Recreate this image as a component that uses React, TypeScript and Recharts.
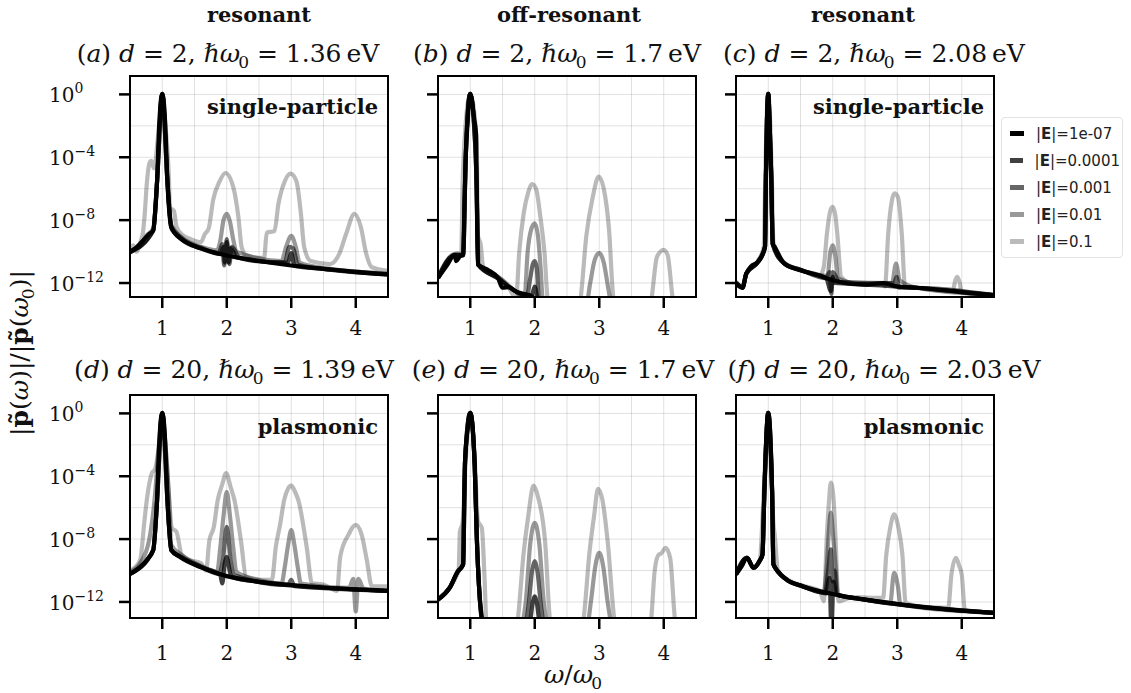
import React from 'react'
import { LineChart, Line, XAxis, YAxis, CartesianGrid, Legend } from 'recharts'

type Pt = [number, number]

const FIELD_LABELS = ['1e-07', '0.0001', '0.001', '0.01', '0.1']
const HEADERS = ['resonant', 'off-resonant', 'resonant']
const X_TICKS = [1, 2, 3, 4]
const Y_TICKS = [1e-12, 1e-8, 1e-4, 1]
const GRID_X = [1, 1.5, 2, 2.5, 3, 3.5, 4]
const GRID_Y = [1, 1e-2, 1e-4, 1e-6, 1e-8, 1e-10, 1e-12]

// (a) d = 2, 1.36 eV
const aE7: Pt[] = [[0.5, 9e-11], [0.6, 1.9e-10], [0.7, 5e-10], [0.8, 1.35e-9], [0.86, 2.2e-9], [0.89, 3e-8], [0.92, 3e-6], [0.95, 6e-3], [0.98, 0.5], [1.0, 1.1], [1.02, 0.5], [1.05, 6e-3], [1.08, 3e-6], [1.11, 3e-8], [1.14, 3.5e-9], [1.2, 1.4e-9], [1.3, 6e-10], [1.5, 2.2e-10], [1.75, 1e-10], [2.0, 5.6e-11], [2.5, 2.5e-11], [3.0, 1.3e-11], [3.5, 8e-12], [4.0, 5e-12], [4.5, 3.5e-12]]
const aE4: Pt[] = [[0.5, 9e-11], [0.86, 2.2e-9], [0.92, 3e-6], [1.0, 1.1], [1.08, 3e-6], [1.14, 3.5e-9], [1.3, 6e-10], [1.6, 1.6e-10], [1.9, 7e-11], [1.95, 2e-10], [1.97, 2e-11], [2.0, 4e-10], [2.03, 2e-11], [2.06, 1.6e-10], [2.15, 4.5e-11], [2.6, 2.2e-11], [2.95, 2e-11], [3.0, 8e-11], [3.05, 1.2e-11], [3.5, 8e-12], [4.5, 3.5e-12]]
const aE3: Pt[] = [[0.5, 1e-10], [0.86, 2.2e-9], [0.92, 3e-6], [1.0, 1.1], [1.08, 3e-6], [1.14, 4e-9], [1.3, 7e-10], [1.6, 1.8e-10], [1.88, 8e-11], [1.93, 3e-10], [1.96, 1.3e-11], [2.0, 6.3e-10], [2.04, 1.6e-11], [2.08, 2e-10], [2.2, 4e-11], [2.9, 2e-11], [2.97, 2e-10], [3.03, 1.6e-10], [3.1, 1.5e-11], [3.6, 7e-12], [4.5, 3.5e-12]]
const aE2: Pt[] = [[0.5, 1.2e-10], [0.65, 2e-10], [0.75, 1e-9], [0.86, 3e-9], [0.92, 3e-6], [1.0, 1.1], [1.08, 3e-6], [1.14, 5e-9], [1.3, 8e-10], [1.6, 2e-10], [1.85, 1.2e-10], [1.9, 5e-10], [1.95, 1e-8], [2.0, 2.5e-8], [2.05, 8e-9], [2.1, 6e-10], [2.15, 1e-10], [2.85, 2.5e-11], [2.92, 2e-10], [3.0, 1e-9], [3.07, 2e-10], [3.13, 2e-11], [3.6, 8e-12], [4.5, 4e-12]]
const aE1: Pt[] = [[0.5, 1.3e-10], [0.55, 2.5e-10], [0.6, 1e-10], [0.66, 4e-10], [0.7, 1.6e-9], [0.73, 3e-8], [0.76, 2e-6], [0.8, 4e-5], [0.83, 6e-5], [0.87, 2e-5], [0.95, 1e-2], [1.0, 1], [1.05, 1e-2], [1.1, 1e-5], [1.12, 6e-8], [1.18, 4e-8], [1.22, 4e-9], [1.3, 1.3e-9], [1.45, 6e-10], [1.6, 4e-10], [1.66, 1.3e-9], [1.72, 3e-9], [1.79, 2e-7], [1.89, 3e-6], [1.98, 1e-5], [2.1, 1.3e-6], [2.18, 1.6e-8], [2.23, 2e-10], [2.3, 6e-11], [2.5, 4e-11], [2.58, 4e-11], [2.62, 1.6e-9], [2.74, 2e-9], [2.8, 1e-7], [2.9, 3e-6], [2.99, 9e-6], [3.08, 3e-6], [3.15, 2.5e-8], [3.2, 2e-10], [3.3, 2.5e-11], [3.6, 1.6e-11], [3.75, 8e-11], [3.85, 1.3e-9], [3.98, 2.5e-8], [4.08, 3.5e-9], [4.16, 8e-11], [4.25, 1e-11], [4.5, 6e-12]]

// (b) d = 2, 1.7 eV
const bE7: Pt[] = [[0.5, 2.1e-12], [0.64, 1.35e-11], [0.76, 6.3e-11], [0.78, 2.5e-11], [0.84, 5e-11], [0.89, 6e-11], [0.91, 1e-7], [0.93, 1e-4], [0.96, 2e-2], [0.99, 0.9], [1.0, 1.1], [1.02, 0.6], [1.06, 3e-2], [1.09, 3e-3], [1.1, 1e-6], [1.12, 1.5e-11], [1.27, 7e-12], [1.43, 2.1e-12], [1.5, 5e-13], [1.6, 5.5e-13], [1.7, 3e-13], [1.84, 2e-13], [1.96, 1.4e-13], [2.1, 1e-14], [2.2, 1e-15]]
const bE4: Pt[] = [[0.5, 2.1e-12], [0.76, 6e-11], [0.89, 6e-11], [0.93, 1e-4], [1.0, 1.1], [1.06, 1e-2], [1.1, 1e-6], [1.12, 1.5e-11], [1.43, 2e-12], [1.7, 3e-13], [1.9, 1.5e-13], [1.96, 2e-13], [2.0, 6e-13], [2.04, 1e-13], [2.1, 1e-14]]
const bE3: Pt[] = [[0.5, 2.1e-12], [0.76, 6e-11], [0.89, 6e-11], [0.93, 1e-4], [1.0, 1.1], [1.06, 1e-2], [1.1, 1e-6], [1.12, 1.5e-11], [1.43, 2e-12], [1.7, 3e-13], [1.88, 1.5e-13], [1.93, 2e-12], [1.97, 1.6e-11], [2.0, 2.5e-11], [2.03, 1e-11], [2.06, 1e-13], [2.1, 1e-14]]
const bE2: Pt[] = [[0.5, 2.5e-12], [0.76, 7e-11], [0.89, 7e-11], [0.93, 1e-4], [1.0, 1.1], [1.06, 1e-2], [1.1, 1e-6], [1.13, 1.5e-11], [1.43, 2.5e-12], [1.7, 3e-13], [1.84, 1e-13], [1.89, 1e-10], [1.95, 3e-9], [2.0, 6.3e-9], [2.05, 1e-9], [2.09, 1e-11], [2.13, 5e-14], [2.8, 5e-14], [2.86, 1e-12], [2.93, 3e-11], [3.0, 8e-11], [3.07, 2e-11], [3.13, 8e-13], [3.18, 5e-14]]
const bE1: Pt[] = [[0.5, 2.5e-12], [0.7, 4e-11], [0.8, 8e-11], [0.86, 6e-11], [0.88, 1e-6], [0.91, 1e-3], [1.0, 1.1], [1.1, 1e-3], [1.12, 1e-9], [1.16, 3e-10], [1.2, 1e-11], [1.25, 5e-12], [1.43, 2.5e-12], [1.6, 5e-13], [1.71, 1e-13], [1.76, 1e-10], [1.83, 3e-8], [1.9, 6e-7], [1.96, 2e-6], [2.02, 1e-6], [2.09, 1.3e-8], [2.15, 1e-10], [2.2, 1e-13], [2.3, 1e-14], [2.65, 1e-14], [2.71, 1e-13], [2.8, 1e-9], [2.9, 3e-7], [2.99, 6e-6], [3.07, 1e-6], [3.15, 3e-9], [3.22, 1e-13], [3.3, 1e-14], [3.75, 1e-14], [3.81, 1e-13], [3.89, 4e-11], [3.95, 1e-10], [4.0, 1.3e-10], [4.06, 6e-11], [4.14, 1e-13], [4.2, 1e-14]]

// (c) d = 2, 2.08 eV
const cE7: Pt[] = [[0.5, 1e-12], [0.6, 5e-13], [0.66, 4e-12], [0.73, 1.1e-11], [0.84, 2.2e-11], [0.91, 6e-11], [0.95, 2e-10], [0.965, 1e-5], [0.98, 2e-2], [1.0, 1.1], [1.02, 2e-2], [1.045, 1e-5], [1.07, 3e-10], [1.1, 2e-10], [1.15, 8e-11], [1.25, 1.7e-11], [1.5, 6.5e-12], [1.76, 3.2e-12], [2.0, 1.5e-12], [2.27, 9e-13], [2.53, 8e-13], [2.78, 1e-12], [2.99, 6e-13], [3.3, 5e-13], [3.81, 3.2e-13], [4.22, 2.1e-13], [4.5, 1.7e-13]]
const cE4: Pt[] = [[0.5, 1e-12], [0.6, 5e-13], [0.66, 4e-12], [0.84, 2.2e-11], [0.95, 2e-10], [0.965, 1e-5], [0.98, 2e-2], [1.0, 1.1], [1.02, 2e-2], [1.045, 1e-5], [1.07, 3e-10], [1.25, 1.7e-11], [1.5, 6.5e-12], [1.9, 2e-12], [1.97, 3e-13], [2.0, 2.5e-12], [2.03, 1e-12], [2.5, 8e-13], [3.3, 5e-13], [4.5, 1.7e-13]]
const cE3: Pt[] = [[0.5, 1e-12], [0.6, 5e-13], [0.66, 4e-12], [0.84, 2.2e-11], [0.95, 2e-10], [0.965, 1e-5], [0.98, 2e-2], [1.0, 1.1], [1.02, 2e-2], [1.045, 1e-5], [1.07, 3e-10], [1.25, 1.8e-11], [1.5, 7e-12], [1.9, 2e-12], [1.95, 5e-12], [1.98, 2e-13], [2.0, 5e-12], [2.04, 3e-12], [2.1, 1.2e-12], [2.95, 1e-12], [2.99, 2.5e-12], [3.03, 5e-13], [3.3, 5e-13], [4.5, 1.7e-13]]
const cE2: Pt[] = [[0.5, 1e-12], [0.6, 5e-13], [0.66, 4e-12], [0.84, 2.2e-11], [0.95, 2e-10], [0.965, 1e-5], [0.98, 2e-2], [1.0, 1.1], [1.02, 2e-2], [1.045, 1e-5], [1.07, 3e-10], [1.25, 1.8e-11], [1.5, 7e-12], [1.8, 3e-12], [1.92, 3e-12], [1.96, 8e-11], [2.0, 2.5e-10], [2.04, 5e-11], [2.08, 2e-12], [2.5, 8e-13], [2.92, 1e-12], [2.98, 1.7e-11], [3.04, 1.5e-12], [3.3, 5e-13], [4.5, 1.7e-13]]
const cE1: Pt[] = [[0.5, 1.2e-12], [0.6, 6e-13], [0.66, 4e-12], [0.84, 2.5e-11], [0.93, 2e-10], [0.955, 1e-5], [0.975, 3e-2], [1.0, 1], [1.03, 2e-2], [1.055, 1e-5], [1.08, 4e-10], [1.25, 2e-11], [1.5, 7e-12], [1.8, 3e-12], [1.86, 1e-11], [1.91, 1.4e-9], [1.97, 5e-8], [2.0, 7e-8], [2.04, 2e-8], [2.07, 1.4e-9], [2.13, 2.5e-12], [2.3, 1e-12], [2.78, 1e-12], [2.81, 6e-13], [2.86, 1.4e-9], [2.92, 2e-7], [2.96, 5e-7], [3.01, 3e-7], [3.07, 1.4e-9], [3.12, 6e-13], [3.3, 5e-13], [3.86, 3e-13], [3.9, 1.5e-12], [3.93, 2.5e-12], [3.97, 1e-12], [4.0, 2.5e-13], [4.5, 1.7e-13]]

// (d) d = 20, 1.39 eV
const dE7: Pt[] = [[0.5, 6e-11], [0.66, 1.7e-10], [0.78, 5.8e-10], [0.86, 2e-9], [0.89, 3e-8], [0.92, 3e-6], [0.95, 6e-3], [0.98, 0.5], [1.0, 1.1], [1.02, 0.5], [1.05, 6e-3], [1.08, 3e-6], [1.11, 3e-8], [1.14, 2e-9], [1.27, 7.4e-10], [1.58, 1.7e-10], [2.0, 4.4e-11], [2.5, 1.9e-11], [3.0, 1.2e-11], [3.5, 8.3e-12], [4.0, 6.3e-12], [4.5, 5e-12]]
const dE4: Pt[] = [[0.5, 6e-11], [0.86, 2e-9], [0.92, 3e-6], [1.0, 1.1], [1.08, 3e-6], [1.14, 2e-9], [1.3, 7e-10], [1.6, 1.7e-10], [1.9, 5e-11], [1.93, 1.5e-11], [1.97, 3e-10], [2.0, 7.4e-10], [2.03, 2e-10], [2.07, 4e-11], [2.5, 1.9e-11], [4.5, 5e-12]]
const dE3: Pt[] = [[0.5, 6e-11], [0.86, 2e-9], [0.92, 3e-6], [1.0, 1.1], [1.08, 3e-6], [1.14, 2e-9], [1.3, 7e-10], [1.6, 1.7e-10], [1.88, 6e-11], [1.94, 4.5e-10], [2.0, 6e-8], [2.06, 4.5e-10], [2.12, 5e-11], [2.95, 1.2e-11], [3.0, 2.5e-11], [3.05, 1e-11], [3.5, 8e-12], [4.5, 5e-12]]
const dE2: Pt[] = [[0.5, 8e-11], [0.66, 3e-10], [0.8, 1e-8], [0.88, 3e-6], [0.95, 1e-2], [1.0, 1], [1.05, 1e-2], [1.1, 1e-5], [1.14, 4e-9], [1.3, 1e-9], [1.6, 2e-10], [1.85, 8e-11], [1.9, 3e-9], [1.95, 3e-7], [2.0, 1e-5], [2.05, 3e-7], [2.1, 3e-9], [2.15, 8e-11], [2.5, 2.5e-11], [2.85, 1.5e-11], [2.9, 1.7e-10], [2.95, 4e-9], [3.0, 3.7e-8], [3.05, 4e-9], [3.1, 1.7e-10], [3.15, 1.5e-11], [3.9, 8e-12], [3.96, 3e-11], [4.0, 2.5e-13], [4.04, 3e-11], [4.12, 7e-12], [4.5, 5e-12]]
const dE1: Pt[] = [[0.5, 1e-10], [0.58, 1.6e-10], [0.66, 5e-10], [0.72, 1e-7], [0.76, 3e-6], [0.84, 1.6e-4], [0.89, 3e-4], [0.95, 1e-2], [1.0, 1], [1.05, 1e-2], [1.1, 1e-5], [1.15, 5e-8], [1.22, 3e-8], [1.3, 1e-9], [1.4, 5e-10], [1.6, 3e-10], [1.68, 1e-10], [1.73, 8e-9], [1.8, 6e-8], [1.86, 3e-6], [1.93, 3e-5], [1.99, 1.6e-4], [2.06, 2e-5], [2.12, 3e-6], [2.22, 8e-9], [2.3, 4e-11], [2.5, 2.5e-11], [2.7, 2.5e-11], [2.76, 3e-9], [2.83, 1e-7], [2.89, 3e-6], [2.95, 1.6e-5], [3.0, 2.5e-5], [3.06, 1e-5], [3.11, 3e-6], [3.24, 3e-9], [3.32, 1.6e-11], [3.5, 1.3e-11], [3.71, 5e-12], [3.76, 8e-10], [3.89, 2e-8], [4.0, 8e-8], [4.09, 2e-8], [4.17, 5e-10], [4.25, 1e-11], [4.5, 1e-11]]

// (e) d = 20, 1.7 eV
const eE7: Pt[] = [[0.5, 1.4e-12], [0.68, 7.8e-12], [0.81, 9e-11], [0.86, 1.5e-10], [0.89, 2.5e-10], [0.9, 1e-7], [0.92, 1e-3], [0.96, 0.1], [1.0, 1.1], [1.04, 0.1], [1.07, 4e-4], [1.1, 2e-8], [1.14, 5e-12], [1.19, 5e-14], [1.25, 1e-15]]
const eE4: Pt[] = [[0.5, 1.4e-12], [0.68, 7.8e-12], [0.81, 9e-11], [0.89, 2.5e-10], [0.92, 1e-3], [1.0, 1.1], [1.07, 4e-4], [1.1, 2e-8], [1.14, 5e-12], [1.19, 5e-14], [1.9, 5e-15], [1.93, 5e-14], [1.97, 1e-12], [2.0, 2.3e-12], [2.03, 1e-12], [2.07, 5e-14], [2.1, 5e-15]]
const eE3: Pt[] = [[0.5, 1.4e-12], [0.68, 7.8e-12], [0.81, 9e-11], [0.89, 2.5e-10], [0.92, 1e-3], [1.0, 1.1], [1.07, 4e-4], [1.1, 2e-8], [1.14, 5e-12], [1.19, 5e-14], [1.84, 5e-15], [1.87, 5e-14], [1.91, 1e-12], [1.96, 1e-10], [2.0, 4e-10], [2.04, 1e-10], [2.09, 1e-12], [2.13, 5e-14], [2.16, 5e-15]]
const eE2: Pt[] = [[0.5, 1.4e-12], [0.68, 8e-12], [0.81, 9e-11], [0.89, 2.5e-10], [0.92, 1e-3], [1.0, 1.1], [1.07, 4e-4], [1.1, 2e-8], [1.14, 5e-12], [1.19, 5e-14], [1.8, 5e-14], [1.86, 1e-12], [1.93, 5e-9], [2.0, 1.1e-7], [2.07, 5e-9], [2.14, 1e-12], [2.2, 5e-14], [2.82, 5e-14], [2.87, 1e-12], [2.94, 2e-10], [3.0, 1.35e-9], [3.06, 2e-10], [3.13, 1e-12], [3.18, 5e-14]]
const eE1: Pt[] = [[0.5, 1.6e-12], [0.68, 8e-12], [0.8, 6e-11], [0.82, 1e-10], [0.84, 3e-8], [0.88, 1e-7], [0.93, 1e-3], [1.0, 1], [1.07, 1e-3], [1.12, 1.4e-7], [1.18, 5e-8], [1.22, 5e-11], [1.26, 1e-14], [1.68, 1e-14], [1.73, 5e-14], [1.83, 1.6e-9], [1.9, 3e-7], [1.98, 2.5e-5], [2.05, 5e-6], [2.16, 7.4e-9], [2.24, 5e-14], [2.3, 1e-14], [2.7, 1e-14], [2.75, 5e-14], [2.85, 1.6e-9], [2.92, 3e-7], [2.98, 1.6e-5], [3.05, 3e-6], [3.13, 7.4e-9], [3.24, 5e-14], [3.3, 1e-14], [3.75, 1e-14], [3.8, 5e-14], [3.86, 1e-10], [3.92, 1e-9], [3.96, 1.2e-9], [4.03, 2.8e-9], [4.1, 6e-10], [4.18, 5e-14], [4.25, 1e-14]]

// (f) d = 20, 2.03 eV
const fE7: Pt[] = [[0.5, 5.6e-11], [0.59, 1.9e-10], [0.67, 6.5e-10], [0.77, 1.5e-10], [0.87, 4.4e-10], [0.91, 1e-9], [0.94, 1e-5], [0.97, 3e-2], [1.0, 1.1], [1.03, 3e-2], [1.06, 1e-5], [1.08, 2.5e-10], [1.15, 9e-11], [1.28, 2.7e-11], [1.53, 1e-11], [2.0, 3.2e-12], [2.5, 1.4e-12], [3.0, 7.4e-13], [3.51, 4.2e-13], [4.0, 2.8e-13], [4.5, 2e-13]]
const fE4: Pt[] = [[0.5, 5.6e-11], [0.67, 6.5e-10], [0.77, 1.5e-10], [0.87, 4.4e-10], [0.91, 1e-9], [0.94, 1e-5], [1.0, 1.1], [1.06, 1e-5], [1.08, 2.5e-10], [1.28, 2.7e-11], [1.53, 1e-11], [1.9, 3.5e-12], [1.95, 3.4e-11], [1.98, 1e-14], [2.01, 2e-11], [2.05, 3e-12], [2.5, 1.4e-12], [4.5, 2e-13]]
const fE3: Pt[] = [[0.5, 5.6e-11], [0.67, 6.5e-10], [0.77, 1.5e-10], [0.87, 4.4e-10], [0.91, 1e-9], [0.94, 1e-5], [1.0, 1.1], [1.06, 1e-5], [1.08, 2.5e-10], [1.28, 2.7e-11], [1.53, 1e-11], [1.88, 4e-12], [1.93, 1e-10], [1.97, 2.2e-9], [2.0, 2e-11], [2.03, 1e-10], [2.06, 3e-12], [2.5, 1.4e-12], [4.5, 2e-13]]
const fE2: Pt[] = [[0.5, 5.6e-11], [0.67, 6.5e-10], [0.77, 1.5e-10], [0.87, 4.4e-10], [0.91, 1e-9], [0.94, 1e-5], [1.0, 1.1], [1.06, 1e-5], [1.08, 2.5e-10], [1.28, 2.7e-11], [1.53, 1e-11], [1.86, 4e-12], [1.91, 3e-10], [1.94, 3e-8], [1.97, 4.8e-7], [2.0, 3e-8], [2.04, 3e-10], [2.08, 3e-12], [2.5, 1.4e-12], [2.89, 8e-13], [2.95, 7e-11], [3.01, 1e-11], [3.05, 7e-13], [4.5, 2e-13]]
const fE1: Pt[] = [[0.5, 6e-11], [0.67, 7e-10], [0.77, 1.7e-10], [0.87, 5e-10], [0.93, 1e-5], [1.0, 1], [1.05, 1e-4], [1.08, 1e-7], [1.1, 2e-8], [1.15, 1e-10], [1.28, 3e-11], [1.53, 1.1e-11], [1.8, 5e-12], [1.86, 1.1e-12], [1.91, 2e-8], [1.94, 2e-6], [1.97, 4e-5], [2.01, 5e-6], [2.04, 2e-8], [2.09, 1.1e-12], [2.3, 2e-12], [2.78, 1.8e-12], [2.83, 1e-9], [2.89, 5e-8], [2.95, 3.7e-7], [3.02, 5e-8], [3.08, 1e-9], [3.13, 8.7e-13], [3.5, 4.5e-13], [3.79, 4.2e-13], [3.84, 5.6e-11], [3.91, 6.5e-10], [3.96, 2e-10], [4.0, 5.6e-11], [4.05, 3e-13], [4.5, 2e-13]]

const PANELS = [
  { id: 'a', d: '2', hw: '1.36', note: 'single-particle', series: [aE7, aE4, aE3, aE2, aE1] },
  { id: 'b', d: '2', hw: '1.7', note: '', series: [bE7, bE4, bE3, bE2, bE1] },
  { id: 'c', d: '2', hw: '2.08', note: 'single-particle', series: [cE7, cE4, cE3, cE2, cE1] },
  { id: 'd', d: '20', hw: '1.39', note: 'plasmonic', series: [dE7, dE4, dE3, dE2, dE1] },
  { id: 'e', d: '20', hw: '1.7', note: '', series: [eE7, eE4, eE3, eE2, eE1] },
  { id: 'f', d: '20', hw: '2.03', note: 'plasmonic', series: [fE7, fE4, fE3, fE2, fE1] },
]

// styling / layout
const OPACITY = [1, 0.75, 0.6, 0.4, 0.27]
const SWATCH = ['#000', '#404040', '#666', '#999', '#bbb']
const SERIF = '"DejaVu Serif", serif'
const COL_X = [130, 438, 736]
const BOX_W = 258
const ROW_Y = [76, 395]
const BOX_H = [221, 223]
const Y_LO = [1.29e-13, 9.5e-14]
const Y_HI = 14.8
const ML = 90
const MT = 10
const MR = 12
const MB = 52
const TITLE_X = [[228, 557, 874], [234, 563, 884]]
const HEADER_X = [259, 569, 863]
const SUB = { fontSize: 17, lineHeight: 0, marginLeft: -2 }

const NoTick = () => null

const XTick = ({ x, y, payload, dy }: any) => (
  <text x={x} y={y + dy} textAnchor="middle" fontFamily={SERIF} fontSize={20} fill="#111">
    {payload.value}
  </text>
)

const YTick = ({ x, y, payload }: any) => {
  const exp = Math.round(Math.log10(payload.value))
  return (
    <text x={x - 68} y={y + 8} textAnchor="start" fontFamily={SERIF} fontSize={20} fill="#111">
      10<tspan dy={-9} fontSize={14}>{exp < 0 ? '\u2212' + -exp : exp}</tspan>
    </text>
  )
}

const LegendBox = ({ payload }: any) => {
  const items = [...(payload || [])].sort((a: any, b: any) => FIELD_LABELS.indexOf(a.value) - FIELD_LABELS.indexOf(b.value))
  return (
    <div style={{ border: '1px solid #e2e2e2', borderRadius: 4, background: '#fff', padding: '2px 2px 2px 8px', width: 110 }}>
      {items.map((e: any, i: number) => (
        <div key={e.value} style={{ display: 'flex', alignItems: 'center', height: 27, fontFamily: '"DejaVu Sans", sans-serif', fontSize: 15, color: '#222', whiteSpace: 'nowrap' }}>
          <span style={{ display: 'inline-block', width: 14, height: 5, background: SWATCH[i], marginRight: 12 }} />
          <span>|<b>E</b>|={e.value}</span>
        </div>
      ))}
    </div>
  )
}

function Panel({ p, row, col }: { p: (typeof PANELS)[number]; row: number; col: number }) {
  const extra = row === 0 && col === 2 ? 137 : 0
  const left = COL_X[col] - ML
  const top = ROW_Y[row] - MT
  const w = ML + BOX_W + MR + extra
  const h = MT + BOX_H[row] + MB
  return (
    <div style={{ position: 'absolute', left, top, width: w, height: h }}>
      <LineChart width={w} height={h} margin={{ top: MT, right: MR + extra, bottom: 0, left: 0 }}>
        <CartesianGrid stroke="#000" strokeOpacity={0.12} horizontalValues={GRID_Y} verticalValues={GRID_X} />
        <XAxis
          type="number"
          dataKey="x"
          domain={[0.5, 4.5]}
          ticks={X_TICKS}
          interval={0}
          allowDataOverflow
          height={MB}
          tickSize={11}
          axisLine={false}
          tickLine={{ stroke: '#000', strokeWidth: 2.5 }}
          tick={<XTick dy={row === 0 ? 25 : 29} />}
        />
        <YAxis
          type="number"
          scale="log"
          domain={[Y_LO[row], Y_HI]}
          ticks={Y_TICKS}
          interval={0}
          allowDataOverflow
          width={ML}
          tickSize={11}
          axisLine={false}
          tickLine={{ stroke: '#000', strokeWidth: 2.5 }}
          tick={col === 0 ? <YTick /> : <NoTick />}
        />
        {p.series.map((s, i) => (
          <Line
            key={FIELD_LABELS[i]}
            name={FIELD_LABELS[i]}
            data={s.map(([x, y]) => ({ x, y }))}
            dataKey="y"
            type="monotone"
            stroke="#000"
            strokeOpacity={OPACITY[i]}
            strokeWidth={4.2}
            strokeLinejoin="round"
            dot={false}
            activeDot={false}
            isAnimationActive={false}
          />
        ))}
        {extra > 0 && (
          <Legend
            layout="vertical"
            align="center"
            verticalAlign="middle"
            wrapperStyle={{ left: 355, top: 51, width: 122 }}
            content={<LegendBox />}
          />
        )}
      </LineChart>
    </div>
  )
}

export default function App() {
  return (
    <div style={{ position: 'absolute', left: 0, top: 0, width: 1131, height: 693, background: '#fff', fontFamily: SERIF, color: '#111' }}>
      {HEADERS.map((t, c) => (
        <div key={c} style={{ position: 'absolute', left: HEADER_X[c] - 100, top: 4, width: 200, textAlign: 'center', fontWeight: 'bold', fontSize: 21, lineHeight: 1 }}>
          {t}
        </div>
      ))}
      {PANELS.map((p, i) => {
        const row = Math.floor(i / 3)
        const col = i % 3
        return (
          <React.Fragment key={p.id}>
            <div style={{ position: 'absolute', left: TITLE_X[row][col] - 200, top: row === 0 ? 41 : 357, width: 400, textAlign: 'center', fontSize: 25, lineHeight: 1, whiteSpace: 'nowrap' }}>
              (<i>{p.id}</i>) <i>d</i> = {p.d}, <i>ℏω</i><sub style={SUB}>0</sub> = {p.hw}{'\u2009'}eV
            </div>
            <Panel p={p} row={row} col={col} />
            <div style={{ position: 'absolute', left: COL_X[col] - 1.25, top: ROW_Y[row] - 1.25, width: BOX_W + 2.5, height: BOX_H[row] + 2.5, border: '2.5px solid #000', boxSizing: 'border-box', pointerEvents: 'none' }} />
            {p.note && (
              <div style={{ position: 'absolute', left: COL_X[col] + BOX_W - 10 - 300, top: row === 0 ? 96 : 416, width: 300, textAlign: 'right', fontWeight: 'bold', fontSize: 21, lineHeight: 1 }}>
                {p.note}
              </div>
            )}
          </React.Fragment>
        )
      })}
      <div style={{ position: 'absolute', left: 20 - 150, top: 353 - 15, width: 300, height: 30, textAlign: 'center', fontSize: 25, lineHeight: '30px', transform: 'rotate(-90deg)', whiteSpace: 'nowrap' }}>
        |<b>p{'\u0303'}</b>(<i>ω</i>)|/|<b>p{'\u0303'}</b>(<i>ω</i><sub style={SUB}>0</sub>)|
      </div>
      <div style={{ position: 'absolute', left: 573 - 60, top: 662, width: 120, textAlign: 'center', fontSize: 25, lineHeight: 1 }}>
        <i>ω</i>/<i>ω</i><sub style={SUB}>0</sub>
      </div>
    </div>
  )
}
